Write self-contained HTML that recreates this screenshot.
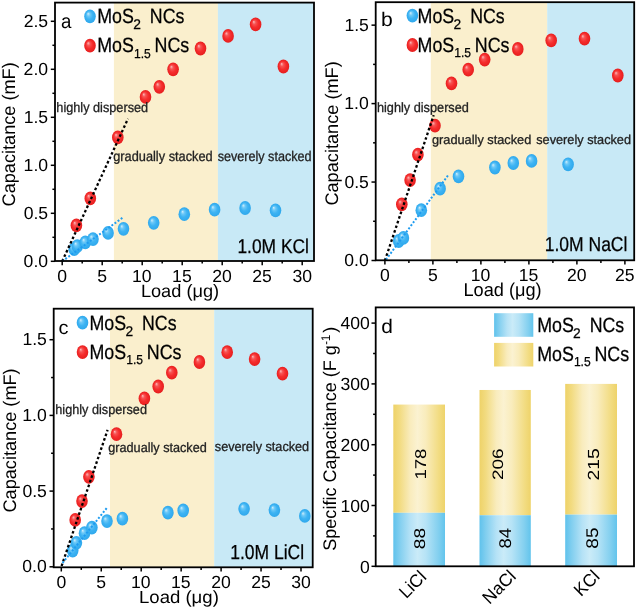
<!DOCTYPE html>
<html><head><meta charset="utf-8"><style>
html,body{margin:0;padding:0;background:#fff;width:637px;height:609px;overflow:hidden}
svg{display:block;will-change:transform}
text{text-rendering:geometricPrecision;font-family:"Liberation Sans", sans-serif}
</style></head><body>
<svg width="637" height="609" viewBox="0 0 637 609">
<defs>
<radialGradient id="gb" cx="0.5" cy="0.5" r="0.5" fx="0.33" fy="0.3">
<stop offset="0" stop-color="#d2eefc"/><stop offset="0.28" stop-color="#6cc8f7"/><stop offset="0.6" stop-color="#3db3f3"/><stop offset="1" stop-color="#2fa8ec"/></radialGradient>
<radialGradient id="gr" cx="0.5" cy="0.5" r="0.5" fx="0.33" fy="0.3">
<stop offset="0" stop-color="#fcbcbc"/><stop offset="0.28" stop-color="#f75454"/><stop offset="0.6" stop-color="#f52d2d"/><stop offset="1" stop-color="#e61e1e"/></radialGradient>
<linearGradient id="gy" x1="0" y1="0" x2="1" y2="0">
<stop offset="0" stop-color="#eed268"/><stop offset="0.12" stop-color="#f2db80"/><stop offset="0.33" stop-color="#f9ecbd"/><stop offset="0.47" stop-color="#fbf2d1"/><stop offset="0.63" stop-color="#f9ecbc"/><stop offset="0.88" stop-color="#f2dc82"/><stop offset="1" stop-color="#eed36a"/></linearGradient>
<linearGradient id="gc" x1="0" y1="0" x2="1" y2="0">
<stop offset="0" stop-color="#5fc2ec"/><stop offset="0.12" stop-color="#80ceef"/><stop offset="0.33" stop-color="#b5e2f6"/><stop offset="0.47" stop-color="#caebf8"/><stop offset="0.63" stop-color="#b6e3f6"/><stop offset="0.88" stop-color="#81cfef"/><stop offset="1" stop-color="#62c4ec"/></linearGradient>
</defs>
<rect width="637" height="609" fill="#fff"/>
<rect x="113.9" y="2.6" width="104.00" height="258.40" fill="#faefcd"/>
<rect x="217.9" y="2.6" width="96.10" height="258.40" fill="#c8e9f6"/>
<ellipse cx="74.20" cy="249.20" rx="5.8" ry="6.9" fill="url(#gb)"/>
<ellipse cx="77.30" cy="246.10" rx="5.8" ry="6.9" fill="url(#gb)"/>
<ellipse cx="85.30" cy="242.40" rx="5.8" ry="6.9" fill="url(#gb)"/>
<ellipse cx="93.00" cy="239.10" rx="5.8" ry="6.9" fill="url(#gb)"/>
<ellipse cx="108.10" cy="232.90" rx="5.8" ry="6.9" fill="url(#gb)"/>
<ellipse cx="123.50" cy="228.80" rx="5.8" ry="6.9" fill="url(#gb)"/>
<ellipse cx="153.70" cy="222.80" rx="5.8" ry="6.9" fill="url(#gb)"/>
<ellipse cx="184.30" cy="214.20" rx="5.8" ry="6.9" fill="url(#gb)"/>
<ellipse cx="214.60" cy="209.70" rx="5.8" ry="6.9" fill="url(#gb)"/>
<ellipse cx="245.10" cy="208.00" rx="5.8" ry="6.9" fill="url(#gb)"/>
<ellipse cx="275.50" cy="210.30" rx="5.8" ry="6.9" fill="url(#gb)"/>
<ellipse cx="76.40" cy="225.40" rx="5.8" ry="6.9" fill="url(#gr)"/>
<ellipse cx="90.30" cy="198.40" rx="5.8" ry="6.9" fill="url(#gr)"/>
<ellipse cx="117.80" cy="137.40" rx="5.8" ry="6.9" fill="url(#gr)"/>
<ellipse cx="145.50" cy="96.90" rx="5.8" ry="6.9" fill="url(#gr)"/>
<ellipse cx="159.30" cy="86.80" rx="5.8" ry="6.9" fill="url(#gr)"/>
<ellipse cx="173.10" cy="69.30" rx="5.8" ry="6.9" fill="url(#gr)"/>
<ellipse cx="200.50" cy="48.50" rx="5.8" ry="6.9" fill="url(#gr)"/>
<ellipse cx="228.10" cy="35.90" rx="5.8" ry="6.9" fill="url(#gr)"/>
<ellipse cx="255.60" cy="24.40" rx="5.8" ry="6.9" fill="url(#gr)"/>
<ellipse cx="283.40" cy="66.50" rx="5.8" ry="6.9" fill="url(#gr)"/>
<line x1="62.2" y1="261.3" x2="128" y2="118.7" stroke="#000" stroke-width="2.3" stroke-dasharray="2.6 2.3"/>
<line x1="62.2" y1="261.3" x2="123.3" y2="217.2" stroke="#1f9cf0" stroke-width="2.0" stroke-dasharray="2 1.8"/>
<rect x="55" y="2.6" width="259.00" height="258.40" fill="none" stroke="#000" stroke-width="1.8"/>
<line x1="62.20" y1="261" x2="62.20" y2="265.20" stroke="#000" stroke-width="1.5"/>
<text transform="translate(57.29,281.88) scale(1.0000,1)" font-size="17.60" fill="#000">0</text>
<line x1="102.20" y1="261" x2="102.20" y2="265.20" stroke="#000" stroke-width="1.5"/>
<text transform="translate(97.32,281.71) scale(1.0000,1)" font-size="17.60" fill="#000">5</text>
<line x1="142.20" y1="261" x2="142.20" y2="265.20" stroke="#000" stroke-width="1.5"/>
<text transform="translate(132.08,281.88) scale(1.0000,1)" font-size="17.60" fill="#000">10</text>
<line x1="182.20" y1="261" x2="182.20" y2="265.20" stroke="#000" stroke-width="1.5"/>
<text transform="translate(172.12,281.71) scale(1.0000,1)" font-size="17.60" fill="#000">15</text>
<line x1="222.20" y1="261" x2="222.20" y2="265.20" stroke="#000" stroke-width="1.5"/>
<text transform="translate(212.31,281.88) scale(1.0000,1)" font-size="17.60" fill="#000">20</text>
<line x1="262.20" y1="261" x2="262.20" y2="265.20" stroke="#000" stroke-width="1.5"/>
<text transform="translate(252.34,281.88) scale(1.0000,1)" font-size="17.60" fill="#000">25</text>
<line x1="302.20" y1="261" x2="302.20" y2="265.20" stroke="#000" stroke-width="1.5"/>
<text transform="translate(292.41,281.88) scale(1.0000,1)" font-size="17.60" fill="#000">30</text>
<line x1="82.20" y1="261" x2="82.20" y2="263.60" stroke="#000" stroke-width="1.5"/>
<line x1="122.20" y1="261" x2="122.20" y2="263.60" stroke="#000" stroke-width="1.5"/>
<line x1="162.20" y1="261" x2="162.20" y2="263.60" stroke="#000" stroke-width="1.5"/>
<line x1="202.20" y1="261" x2="202.20" y2="263.60" stroke="#000" stroke-width="1.5"/>
<line x1="242.20" y1="261" x2="242.20" y2="263.60" stroke="#000" stroke-width="1.5"/>
<line x1="282.20" y1="261" x2="282.20" y2="263.60" stroke="#000" stroke-width="1.5"/>
<line x1="55" y1="261.30" x2="50.80" y2="261.30" stroke="#000" stroke-width="1.5"/>
<text transform="translate(23.60,266.80) scale(1.0000,1)" font-size="17.60" fill="#000">0.0</text>
<line x1="55" y1="213.30" x2="50.80" y2="213.30" stroke="#000" stroke-width="1.5"/>
<text transform="translate(23.68,218.80) scale(1.0000,1)" font-size="17.60" fill="#000">0.5</text>
<line x1="55" y1="165.30" x2="50.80" y2="165.30" stroke="#000" stroke-width="1.5"/>
<text transform="translate(23.60,170.80) scale(1.0000,1)" font-size="17.60" fill="#000">1.0</text>
<line x1="55" y1="117.30" x2="50.80" y2="117.30" stroke="#000" stroke-width="1.5"/>
<text transform="translate(23.68,122.72) scale(1.0000,1)" font-size="17.60" fill="#000">1.5</text>
<line x1="55" y1="69.30" x2="50.80" y2="69.30" stroke="#000" stroke-width="1.5"/>
<text transform="translate(23.60,74.80) scale(1.0000,1)" font-size="17.60" fill="#000">2.0</text>
<line x1="55" y1="21.30" x2="50.80" y2="21.30" stroke="#000" stroke-width="1.5"/>
<text transform="translate(23.68,26.80) scale(1.0000,1)" font-size="17.60" fill="#000">2.5</text>
<line x1="55" y1="237.30" x2="52.40" y2="237.30" stroke="#000" stroke-width="1.5"/>
<line x1="55" y1="189.30" x2="52.40" y2="189.30" stroke="#000" stroke-width="1.5"/>
<line x1="55" y1="141.30" x2="52.40" y2="141.30" stroke="#000" stroke-width="1.5"/>
<line x1="55" y1="93.30" x2="52.40" y2="93.30" stroke="#000" stroke-width="1.5"/>
<line x1="55" y1="45.30" x2="52.40" y2="45.30" stroke="#000" stroke-width="1.5"/>
<ellipse cx="90.00" cy="16.30" rx="5.8" ry="6.9" fill="url(#gb)"/>
<ellipse cx="90.00" cy="45.70" rx="5.8" ry="6.9" fill="url(#gr)"/>
<text transform="translate(97.24,23.29) scale(0.8652,1)" font-size="20.60" fill="#010101" stroke="#000" stroke-width="0.25">MoS</text>
<text transform="translate(133.21,29.00) scale(0.9840,1)" font-size="14.04" fill="#010101" stroke="#000" stroke-width="0.25">2</text>
<text transform="translate(149.85,23.29) scale(0.8613,1)" font-size="20.60" fill="#010101" stroke="#000" stroke-width="0.25">NCs</text>
<text transform="translate(97.24,52.49) scale(0.8652,1)" font-size="20.60" fill="#010101" stroke="#000" stroke-width="0.25">MoS</text>
<text transform="translate(133.98,57.77) scale(0.9286,1)" font-size="13.04" fill="#010101" stroke="#000" stroke-width="0.25">1.5</text>
<text transform="translate(154.54,52.49) scale(0.8667,1)" font-size="20.60" fill="#010101" stroke="#000" stroke-width="0.25">NCs</text>
<text transform="translate(61.02,27.60) scale(0.9305,1)" font-size="20.07" fill="#000">a</text>
<text transform="translate(56.31,112.34) scale(0.9261,1)" font-size="13.73" fill="#222" stroke="#222" stroke-width="0.3">highly dispersed</text>
<text transform="translate(113.26,161.08) scale(0.9092,1)" font-size="14.06" fill="#222" stroke="#222" stroke-width="0.3">gradually stacked</text>
<text transform="translate(217.65,161.08) scale(0.8975,1)" font-size="14.06" fill="#222" stroke="#222" stroke-width="0.3">severely stacked</text>
<text transform="translate(237.38,252.60) scale(0.8751,1)" font-size="19.89" fill="#010101" stroke="#000" stroke-width="0.25">1.0M KCl</text>
<text transform="translate(140.91,297.00) scale(1.0175,1)" font-size="17.88">Load (μg)</text>
<text transform="translate(14.80,206.41) rotate(-90) scale(0.9973,1)" font-size="18.20">Capacitance (mF)</text>
<rect x="430.8" y="2.2" width="116.40" height="258.10" fill="#faefcd"/>
<rect x="547.2" y="2.2" width="87.00" height="258.10" fill="#c8e9f6"/>
<ellipse cx="398.70" cy="241.00" rx="5.8" ry="6.9" fill="url(#gb)"/>
<ellipse cx="403.40" cy="237.90" rx="5.8" ry="6.9" fill="url(#gb)"/>
<ellipse cx="421.30" cy="210.20" rx="5.8" ry="6.9" fill="url(#gb)"/>
<ellipse cx="440.10" cy="188.70" rx="5.8" ry="6.9" fill="url(#gb)"/>
<ellipse cx="458.50" cy="176.40" rx="5.8" ry="6.9" fill="url(#gb)"/>
<ellipse cx="494.90" cy="167.50" rx="5.8" ry="6.9" fill="url(#gb)"/>
<ellipse cx="513.30" cy="163.00" rx="5.8" ry="6.9" fill="url(#gb)"/>
<ellipse cx="531.60" cy="160.90" rx="5.8" ry="6.9" fill="url(#gb)"/>
<ellipse cx="568.10" cy="164.40" rx="5.8" ry="6.9" fill="url(#gb)"/>
<ellipse cx="401.80" cy="204.30" rx="5.8" ry="6.9" fill="url(#gr)"/>
<ellipse cx="410.10" cy="180.10" rx="5.8" ry="6.9" fill="url(#gr)"/>
<ellipse cx="417.90" cy="154.70" rx="5.8" ry="6.9" fill="url(#gr)"/>
<ellipse cx="435.00" cy="125.70" rx="5.8" ry="6.9" fill="url(#gr)"/>
<ellipse cx="451.50" cy="83.40" rx="5.8" ry="6.9" fill="url(#gr)"/>
<ellipse cx="468.20" cy="69.70" rx="5.8" ry="6.9" fill="url(#gr)"/>
<ellipse cx="484.70" cy="59.60" rx="5.8" ry="6.9" fill="url(#gr)"/>
<ellipse cx="517.80" cy="49.00" rx="5.8" ry="6.9" fill="url(#gr)"/>
<ellipse cx="551.20" cy="40.40" rx="5.8" ry="6.9" fill="url(#gr)"/>
<ellipse cx="584.50" cy="38.70" rx="5.8" ry="6.9" fill="url(#gr)"/>
<ellipse cx="617.80" cy="75.50" rx="5.8" ry="6.9" fill="url(#gr)"/>
<line x1="384.9" y1="260.5" x2="433.7" y2="115.2" stroke="#000" stroke-width="2.3" stroke-dasharray="2.6 2.3"/>
<line x1="386" y1="259.7" x2="447.9" y2="175.5" stroke="#1f9cf0" stroke-width="2.0" stroke-dasharray="2 1.8"/>
<rect x="375.7" y="2.2" width="258.50" height="258.10" fill="none" stroke="#000" stroke-width="1.8"/>
<line x1="384.90" y1="260.3" x2="384.90" y2="264.50" stroke="#000" stroke-width="1.5"/>
<text transform="translate(379.99,281.18) scale(1.0000,1)" font-size="17.60" fill="#000">0</text>
<line x1="432.90" y1="260.3" x2="432.90" y2="264.50" stroke="#000" stroke-width="1.5"/>
<text transform="translate(428.02,281.01) scale(1.0000,1)" font-size="17.60" fill="#000">5</text>
<line x1="480.90" y1="260.3" x2="480.90" y2="264.50" stroke="#000" stroke-width="1.5"/>
<text transform="translate(470.78,281.18) scale(1.0000,1)" font-size="17.60" fill="#000">10</text>
<line x1="528.90" y1="260.3" x2="528.90" y2="264.50" stroke="#000" stroke-width="1.5"/>
<text transform="translate(518.82,281.01) scale(1.0000,1)" font-size="17.60" fill="#000">15</text>
<line x1="576.90" y1="260.3" x2="576.90" y2="264.50" stroke="#000" stroke-width="1.5"/>
<text transform="translate(567.01,281.18) scale(1.0000,1)" font-size="17.60" fill="#000">20</text>
<line x1="624.90" y1="260.3" x2="624.90" y2="264.50" stroke="#000" stroke-width="1.5"/>
<text transform="translate(615.04,281.18) scale(1.0000,1)" font-size="17.60" fill="#000">25</text>
<line x1="408.90" y1="260.3" x2="408.90" y2="262.90" stroke="#000" stroke-width="1.5"/>
<line x1="456.90" y1="260.3" x2="456.90" y2="262.90" stroke="#000" stroke-width="1.5"/>
<line x1="504.90" y1="260.3" x2="504.90" y2="262.90" stroke="#000" stroke-width="1.5"/>
<line x1="552.90" y1="260.3" x2="552.90" y2="262.90" stroke="#000" stroke-width="1.5"/>
<line x1="600.90" y1="260.3" x2="600.90" y2="262.90" stroke="#000" stroke-width="1.5"/>
<line x1="375.7" y1="260.50" x2="371.50" y2="260.50" stroke="#000" stroke-width="1.5"/>
<text transform="translate(344.30,266.00) scale(1.0000,1)" font-size="17.60" fill="#000">0.0</text>
<line x1="375.7" y1="182.05" x2="371.50" y2="182.05" stroke="#000" stroke-width="1.5"/>
<text transform="translate(344.38,187.55) scale(1.0000,1)" font-size="17.60" fill="#000">0.5</text>
<line x1="375.7" y1="103.60" x2="371.50" y2="103.60" stroke="#000" stroke-width="1.5"/>
<text transform="translate(344.30,109.10) scale(1.0000,1)" font-size="17.60" fill="#000">1.0</text>
<line x1="375.7" y1="25.15" x2="371.50" y2="25.15" stroke="#000" stroke-width="1.5"/>
<text transform="translate(344.38,30.57) scale(1.0000,1)" font-size="17.60" fill="#000">1.5</text>
<line x1="375.7" y1="221.28" x2="373.10" y2="221.28" stroke="#000" stroke-width="1.5"/>
<line x1="375.7" y1="142.82" x2="373.10" y2="142.82" stroke="#000" stroke-width="1.5"/>
<line x1="375.7" y1="64.38" x2="373.10" y2="64.38" stroke="#000" stroke-width="1.5"/>
<ellipse cx="412.40" cy="15.60" rx="5.8" ry="6.9" fill="url(#gb)"/>
<ellipse cx="412.40" cy="45.00" rx="5.8" ry="6.9" fill="url(#gr)"/>
<text transform="translate(417.54,22.79) scale(0.8652,1)" font-size="20.60" fill="#010101" stroke="#000" stroke-width="0.25">MoS</text>
<text transform="translate(453.51,28.50) scale(0.9840,1)" font-size="14.04" fill="#010101" stroke="#000" stroke-width="0.25">2</text>
<text transform="translate(470.15,22.79) scale(0.8613,1)" font-size="20.60" fill="#010101" stroke="#000" stroke-width="0.25">NCs</text>
<text transform="translate(417.54,51.99) scale(0.8652,1)" font-size="20.60" fill="#010101" stroke="#000" stroke-width="0.25">MoS</text>
<text transform="translate(454.28,57.27) scale(0.9286,1)" font-size="13.04" fill="#010101" stroke="#000" stroke-width="0.25">1.5</text>
<text transform="translate(474.84,51.99) scale(0.8667,1)" font-size="20.60" fill="#010101" stroke="#000" stroke-width="0.25">NCs</text>
<text transform="translate(380.95,26.10) scale(1.0687,1)" font-size="19.75" fill="#000">b</text>
<text transform="translate(376.91,111.90) scale(0.9407,1)" font-size="13.54" fill="#222" stroke="#222" stroke-width="0.3">highly dispersed</text>
<text transform="translate(431.96,144.00) scale(0.9939,1)" font-size="12.85" fill="#222" stroke="#222" stroke-width="0.3">gradually stacked</text>
<text transform="translate(536.24,143.80) scale(0.9811,1)" font-size="12.98" fill="#222" stroke="#222" stroke-width="0.3">severely stacked</text>
<text transform="translate(544.67,250.90) scale(0.8691,1)" font-size="20.17" fill="#010101" stroke="#000" stroke-width="0.25">1.0M NaCl</text>
<text transform="translate(463.41,296.10) scale(0.9777,1)" font-size="18.60">Load (μg)</text>
<text transform="translate(337.60,205.61) rotate(-90) scale(0.9987,1)" font-size="18.20">Capacitance (mF)</text>
<rect x="110" y="308.7" width="104.20" height="258.60" fill="#faefcd"/>
<rect x="214.2" y="308.7" width="98.50" height="258.60" fill="#c8e9f6"/>
<ellipse cx="72.70" cy="550.60" rx="5.8" ry="6.9" fill="url(#gb)"/>
<ellipse cx="76.40" cy="542.80" rx="5.8" ry="6.9" fill="url(#gb)"/>
<ellipse cx="84.50" cy="533.20" rx="5.8" ry="6.9" fill="url(#gb)"/>
<ellipse cx="91.90" cy="527.60" rx="5.8" ry="6.9" fill="url(#gb)"/>
<ellipse cx="107.00" cy="521.10" rx="5.8" ry="6.9" fill="url(#gb)"/>
<ellipse cx="122.40" cy="518.70" rx="5.8" ry="6.9" fill="url(#gb)"/>
<ellipse cx="167.90" cy="512.70" rx="5.8" ry="6.9" fill="url(#gb)"/>
<ellipse cx="183.20" cy="510.50" rx="5.8" ry="6.9" fill="url(#gb)"/>
<ellipse cx="244.10" cy="508.80" rx="5.8" ry="6.9" fill="url(#gb)"/>
<ellipse cx="274.40" cy="510.10" rx="5.8" ry="6.9" fill="url(#gb)"/>
<ellipse cx="304.80" cy="515.90" rx="5.8" ry="6.9" fill="url(#gb)"/>
<ellipse cx="75.20" cy="519.90" rx="5.8" ry="6.9" fill="url(#gr)"/>
<ellipse cx="82.00" cy="501.10" rx="5.8" ry="6.9" fill="url(#gr)"/>
<ellipse cx="88.90" cy="476.80" rx="5.8" ry="6.9" fill="url(#gr)"/>
<ellipse cx="116.50" cy="434.20" rx="5.8" ry="6.9" fill="url(#gr)"/>
<ellipse cx="144.40" cy="398.40" rx="5.8" ry="6.9" fill="url(#gr)"/>
<ellipse cx="158.20" cy="386.50" rx="5.8" ry="6.9" fill="url(#gr)"/>
<ellipse cx="171.80" cy="372.70" rx="5.8" ry="6.9" fill="url(#gr)"/>
<ellipse cx="199.40" cy="362.00" rx="5.8" ry="6.9" fill="url(#gr)"/>
<ellipse cx="227.20" cy="352.20" rx="5.8" ry="6.9" fill="url(#gr)"/>
<ellipse cx="254.60" cy="359.10" rx="5.8" ry="6.9" fill="url(#gr)"/>
<ellipse cx="282.50" cy="373.70" rx="5.8" ry="6.9" fill="url(#gr)"/>
<line x1="61.6" y1="566" x2="107.6" y2="429.9" stroke="#000" stroke-width="2.3" stroke-dasharray="2.6 2.3"/>
<line x1="62.5" y1="563" x2="107.4" y2="507.3" stroke="#1f9cf0" stroke-width="2.0" stroke-dasharray="2 1.8"/>
<rect x="53.7" y="308.7" width="259.00" height="258.60" fill="none" stroke="#000" stroke-width="1.8"/>
<line x1="61.30" y1="567.3" x2="61.30" y2="571.50" stroke="#000" stroke-width="1.5"/>
<text transform="translate(56.39,588.18) scale(1.0000,1)" font-size="17.60" fill="#000">0</text>
<line x1="101.25" y1="567.3" x2="101.25" y2="571.50" stroke="#000" stroke-width="1.5"/>
<text transform="translate(96.37,588.01) scale(1.0000,1)" font-size="17.60" fill="#000">5</text>
<line x1="141.20" y1="567.3" x2="141.20" y2="571.50" stroke="#000" stroke-width="1.5"/>
<text transform="translate(131.08,588.18) scale(1.0000,1)" font-size="17.60" fill="#000">10</text>
<line x1="181.15" y1="567.3" x2="181.15" y2="571.50" stroke="#000" stroke-width="1.5"/>
<text transform="translate(171.07,588.01) scale(1.0000,1)" font-size="17.60" fill="#000">15</text>
<line x1="221.10" y1="567.3" x2="221.10" y2="571.50" stroke="#000" stroke-width="1.5"/>
<text transform="translate(211.21,588.18) scale(1.0000,1)" font-size="17.60" fill="#000">20</text>
<line x1="261.05" y1="567.3" x2="261.05" y2="571.50" stroke="#000" stroke-width="1.5"/>
<text transform="translate(251.19,588.18) scale(1.0000,1)" font-size="17.60" fill="#000">25</text>
<line x1="301.00" y1="567.3" x2="301.00" y2="571.50" stroke="#000" stroke-width="1.5"/>
<text transform="translate(291.21,588.18) scale(1.0000,1)" font-size="17.60" fill="#000">30</text>
<line x1="81.28" y1="567.3" x2="81.28" y2="569.90" stroke="#000" stroke-width="1.5"/>
<line x1="121.22" y1="567.3" x2="121.22" y2="569.90" stroke="#000" stroke-width="1.5"/>
<line x1="161.18" y1="567.3" x2="161.18" y2="569.90" stroke="#000" stroke-width="1.5"/>
<line x1="201.12" y1="567.3" x2="201.12" y2="569.90" stroke="#000" stroke-width="1.5"/>
<line x1="241.07" y1="567.3" x2="241.07" y2="569.90" stroke="#000" stroke-width="1.5"/>
<line x1="281.02" y1="567.3" x2="281.02" y2="569.90" stroke="#000" stroke-width="1.5"/>
<line x1="53.7" y1="566.80" x2="49.50" y2="566.80" stroke="#000" stroke-width="1.5"/>
<text transform="translate(22.30,572.30) scale(1.0000,1)" font-size="17.60" fill="#000">0.0</text>
<line x1="53.7" y1="491.10" x2="49.50" y2="491.10" stroke="#000" stroke-width="1.5"/>
<text transform="translate(22.38,496.60) scale(1.0000,1)" font-size="17.60" fill="#000">0.5</text>
<line x1="53.7" y1="415.40" x2="49.50" y2="415.40" stroke="#000" stroke-width="1.5"/>
<text transform="translate(22.30,420.90) scale(1.0000,1)" font-size="17.60" fill="#000">1.0</text>
<line x1="53.7" y1="339.70" x2="49.50" y2="339.70" stroke="#000" stroke-width="1.5"/>
<text transform="translate(22.38,345.12) scale(1.0000,1)" font-size="17.60" fill="#000">1.5</text>
<line x1="53.7" y1="528.95" x2="51.10" y2="528.95" stroke="#000" stroke-width="1.5"/>
<line x1="53.7" y1="453.25" x2="51.10" y2="453.25" stroke="#000" stroke-width="1.5"/>
<line x1="53.7" y1="377.55" x2="51.10" y2="377.55" stroke="#000" stroke-width="1.5"/>
<ellipse cx="82.50" cy="322.70" rx="5.8" ry="6.9" fill="url(#gb)"/>
<ellipse cx="82.50" cy="352.10" rx="5.8" ry="6.9" fill="url(#gr)"/>
<text transform="translate(89.44,329.79) scale(0.8652,1)" font-size="20.60" fill="#010101" stroke="#000" stroke-width="0.25">MoS</text>
<text transform="translate(125.41,335.50) scale(0.9840,1)" font-size="14.04" fill="#010101" stroke="#000" stroke-width="0.25">2</text>
<text transform="translate(142.05,329.79) scale(0.8613,1)" font-size="20.60" fill="#010101" stroke="#000" stroke-width="0.25">NCs</text>
<text transform="translate(89.44,358.99) scale(0.8652,1)" font-size="20.60" fill="#010101" stroke="#000" stroke-width="0.25">MoS</text>
<text transform="translate(126.18,364.27) scale(0.9286,1)" font-size="13.04" fill="#010101" stroke="#000" stroke-width="0.25">1.5</text>
<text transform="translate(146.74,358.99) scale(0.8667,1)" font-size="20.60" fill="#010101" stroke="#000" stroke-width="0.25">NCs</text>
<text transform="translate(58.46,333.61) scale(1.0390,1)" font-size="19.16" fill="#000">c</text>
<text transform="translate(55.31,413.80) scale(0.9375,1)" font-size="13.54" fill="#222" stroke="#222" stroke-width="0.3">highly dispersed</text>
<text transform="translate(108.27,451.80) scale(0.9451,1)" font-size="13.40" fill="#222" stroke="#222" stroke-width="0.3">gradually stacked</text>
<text transform="translate(214.85,451.40) scale(0.9457,1)" font-size="13.40" fill="#222" stroke="#222" stroke-width="0.3">severely stacked</text>
<text transform="translate(230.17,559.00) scale(0.8627,1)" font-size="20.30" fill="#010101" stroke="#000" stroke-width="0.25">1.0M LiCl</text>
<text transform="translate(138.98,603.00) scale(1.0562,1)" font-size="17.59">Load (μg)</text>
<text transform="translate(15.60,512.51) rotate(-90) scale(0.9973,1)" font-size="18.20">Capacitance (mF)</text>
<rect x="393.3" y="404.57" width="51.70" height="108.22" fill="url(#gy)"/>
<rect x="393.3" y="512.80" width="51.70" height="53.50" fill="url(#gc)"/>
<rect x="479.5" y="389.98" width="51.30" height="125.25" fill="url(#gy)"/>
<rect x="479.5" y="515.23" width="51.30" height="51.07" fill="url(#gc)"/>
<rect x="565.2" y="383.90" width="51.80" height="130.72" fill="url(#gy)"/>
<rect x="565.2" y="514.62" width="51.80" height="51.68" fill="url(#gc)"/>
<text transform="translate(425.84,479.61) rotate(-90) scale(1.1867,1)" font-size="15.68">178</text>
<text transform="translate(424.84,549.25) rotate(-90) scale(1.2382,1)" font-size="15.54">88</text>
<text transform="translate(502.85,480.05) rotate(-90) scale(1.2569,1)" font-size="15.11">206</text>
<text transform="translate(510.93,548.61) rotate(-90) scale(1.0913,1)" font-size="16.95">84</text>
<text transform="translate(598.74,480.46) rotate(-90) scale(1.1940,1)" font-size="16.10">215</text>
<text transform="translate(597.63,548.64) rotate(-90) scale(1.1271,1)" font-size="16.95">85</text>
<rect x="375.7" y="307.4" width="258.30" height="258.90" fill="none" stroke="#000" stroke-width="1.8"/>
<line x1="375.7" y1="566.30" x2="371.50" y2="566.30" stroke="#000" stroke-width="1.5"/>
<text transform="translate(360.08,572.55) scale(1.0000,1)" font-size="17.60" fill="#000">0</text>
<line x1="375.7" y1="505.50" x2="371.50" y2="505.50" stroke="#000" stroke-width="1.5"/>
<text transform="translate(340.51,511.75) scale(1.0000,1)" font-size="17.60" fill="#000">100</text>
<line x1="375.7" y1="444.70" x2="371.50" y2="444.70" stroke="#000" stroke-width="1.5"/>
<text transform="translate(340.51,450.95) scale(1.0000,1)" font-size="17.60" fill="#000">200</text>
<line x1="375.7" y1="383.90" x2="371.50" y2="383.90" stroke="#000" stroke-width="1.5"/>
<text transform="translate(340.51,390.15) scale(1.0000,1)" font-size="17.60" fill="#000">300</text>
<line x1="375.7" y1="323.10" x2="371.50" y2="323.10" stroke="#000" stroke-width="1.5"/>
<text transform="translate(340.51,329.35) scale(1.0000,1)" font-size="17.60" fill="#000">400</text>
<line x1="375.7" y1="535.90" x2="373.10" y2="535.90" stroke="#000" stroke-width="1.5"/>
<line x1="375.7" y1="475.10" x2="373.10" y2="475.10" stroke="#000" stroke-width="1.5"/>
<line x1="375.7" y1="414.30" x2="373.10" y2="414.30" stroke="#000" stroke-width="1.5"/>
<line x1="375.7" y1="353.50" x2="373.10" y2="353.50" stroke="#000" stroke-width="1.5"/>
<text transform="translate(406.19,599.21) rotate(-45) scale(0.9792,1)" font-size="17.80">LiCl</text>
<text transform="translate(489.57,604.90) rotate(-45) scale(0.9827,1)" font-size="17.80">NaCl</text>
<text transform="translate(581.10,597.31) rotate(-45) scale(0.9742,1)" font-size="17.80">KCl</text>
<rect x="494.1" y="313.2" width="39.2" height="23.6" fill="url(#gc)"/>
<rect x="494.1" y="342.9" width="39.2" height="23.6" fill="url(#gy)"/>
<text transform="translate(537.14,331.89) scale(0.8652,1)" font-size="20.60" fill="#010101" stroke="#000" stroke-width="0.25">MoS</text>
<text transform="translate(573.11,337.60) scale(0.9840,1)" font-size="14.04" fill="#010101" stroke="#000" stroke-width="0.25">2</text>
<text transform="translate(589.75,331.89) scale(0.8613,1)" font-size="20.60" fill="#010101" stroke="#000" stroke-width="0.25">NCs</text>
<text transform="translate(537.14,361.09) scale(0.8652,1)" font-size="20.60" fill="#010101" stroke="#000" stroke-width="0.25">MoS</text>
<text transform="translate(573.88,366.37) scale(0.9286,1)" font-size="13.04" fill="#010101" stroke="#000" stroke-width="0.25">1.5</text>
<text transform="translate(594.44,361.09) scale(0.8667,1)" font-size="20.60" fill="#010101" stroke="#000" stroke-width="0.25">NCs</text>
<text transform="translate(381.22,332.70) scale(1.0574,1)" font-size="19.75" fill="#000">d</text>
<text transform="translate(335.70,550.73) rotate(-90) scale(0.9916,1)" font-size="18.20">Specific Capacitance</text>
<text transform="translate(335.70,377.33) rotate(-90) scale(0.9978,1)" font-size="18.20">(F g</text>
<text transform="translate(329.50,344.69) rotate(-90) scale(0.8851,1)" font-size="12.60">-1</text>
<text transform="translate(335.70,332.81) rotate(-90) scale(1.0000,1)" font-size="18.20">)</text>
</svg></body></html>
